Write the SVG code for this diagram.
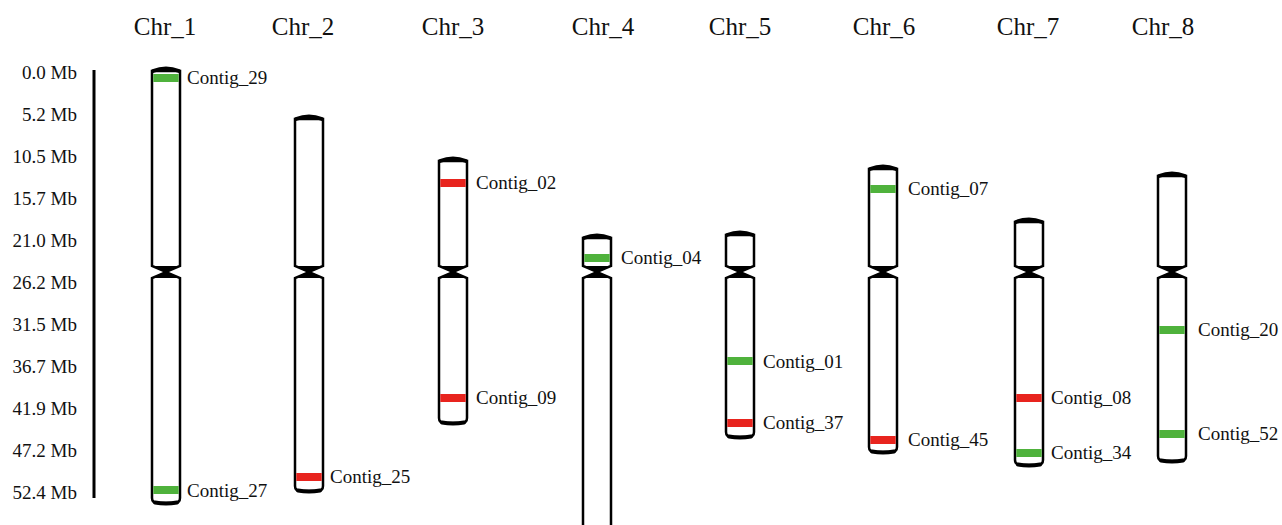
<svg xmlns="http://www.w3.org/2000/svg" width="1282" height="525" viewBox="0 0 1282 525">
<style>
text{font-family:"Liberation Serif","Times New Roman",Times,serif;fill:#111}
.hd{font-size:25px;text-anchor:middle}
.ax{font-size:19px;text-anchor:end}
.lb{font-size:19px}
.arm{fill:#fff;stroke:#000;stroke-width:2.5}
.cap{fill:none;stroke:#000;stroke-width:4;stroke-linecap:round}
.cen{fill:#000}
.g{fill:#4fb23c}
.r{fill:#e8241e}
</style>
<rect width="1282" height="525" fill="#fff"/>
<g id="headers">
<text class="hd" x="165" y="35">Chr_1</text>
<text class="hd" x="303" y="35">Chr_2</text>
<text class="hd" x="453" y="35">Chr_3</text>
<text class="hd" x="603" y="35">Chr_4</text>
<text class="hd" x="740" y="35">Chr_5</text>
<text class="hd" x="884" y="35">Chr_6</text>
<text class="hd" x="1028" y="35">Chr_7</text>
<text class="hd" x="1163" y="35">Chr_8</text>
</g>
<g id="axis">
<line x1="94" y1="70" x2="94" y2="498" stroke="#000" stroke-width="3"/>
<text class="ax" x="77" y="79">0.0 Mb</text>
<text class="ax" x="77" y="121">5.2 Mb</text>
<text class="ax" x="77" y="163">10.5 Mb</text>
<text class="ax" x="77" y="205">15.7 Mb</text>
<text class="ax" x="77" y="247">21.0 Mb</text>
<text class="ax" x="77" y="289">26.2 Mb</text>
<text class="ax" x="77" y="331">31.5 Mb</text>
<text class="ax" x="77" y="373">36.7 Mb</text>
<text class="ax" x="77" y="415">41.9 Mb</text>
<text class="ax" x="77" y="457">47.2 Mb</text>
<text class="ax" x="77" y="499">52.4 Mb</text>
</g>
<g id="chr1">
<path class="arm" d="M152,266 V71 H180 V266 L166,272 Z"/>
<path class="arm" d="M152,278 V498 Q152,503 158,503 H174 Q180,503 180,498 V278 L166,272 Z"/>
<path class="cap" d="M153,71 Q166,66 179,71"/>
<path class="cap" d="M155,502.5 Q166,504.5 177,502.5"/>
<path class="cen" d="M152,266 H180 L167.5,272 L180,278 H152 L164.5,272 Z"/>
<rect class="g" x="153.3" y="74" width="25.4" height="8"/>
<rect class="g" x="153.3" y="486" width="25.4" height="8"/>
<text class="lb" x="187" y="84">Contig_29</text>
<text class="lb" x="187" y="497">Contig_27</text>
</g>
<g id="chr2">
<path class="arm" d="M295,266 V119 H323 V266 L309,272 Z"/>
<path class="arm" d="M295,278 V486 Q295,491 301,491 H317 Q323,491 323,486 V278 L309,272 Z"/>
<path class="cap" d="M296,119 Q309,114 322,119"/>
<path class="cap" d="M298,490.5 Q309,492.5 320,490.5"/>
<path class="cen" d="M295,266 H323 L310.5,272 L323,278 H295 L307.5,272 Z"/>
<rect class="r" x="296.3" y="473" width="25.4" height="8"/>
<text class="lb" x="330" y="483">Contig_25</text>
</g>
<g id="chr3">
<path class="arm" d="M439,266 V161 H467 V266 L453,272 Z"/>
<path class="arm" d="M439,278 V418 Q439,423 445,423 H461 Q467,423 467,418 V278 L453,272 Z"/>
<path class="cap" d="M440,161 Q453,156 466,161"/>
<path class="cap" d="M442,422.5 Q453,424.5 464,422.5"/>
<path class="cen" d="M439,266 H467 L454.5,272 L467,278 H439 L451.5,272 Z"/>
<rect class="r" x="440.3" y="179" width="25.4" height="8"/>
<rect class="r" x="440.3" y="394" width="25.4" height="8"/>
<text class="lb" x="476" y="189">Contig_02</text>
<text class="lb" x="476" y="404">Contig_09</text>
</g>
<g id="chr4">
<path class="arm" d="M583,266 V238 H611 V266 L597,272 Z"/>
<path class="arm" d="M583,278 V535 H611 V278 L597,272 Z"/>
<path class="cap" d="M584,238 Q597,233 610,238"/>
<path class="cen" d="M583,266 H611 L598.5,272 L611,278 H583 L595.5,272 Z"/>
<rect class="g" x="584.3" y="254" width="25.4" height="8"/>
<text class="lb" x="621" y="264">Contig_04</text>
</g>
<g id="chr5">
<path class="arm" d="M726,266 V235 H754 V266 L740,272 Z"/>
<path class="arm" d="M726,278 V432 Q726,437 732,437 H748 Q754,437 754,432 V278 L740,272 Z"/>
<path class="cap" d="M727,235 Q740,230 753,235"/>
<path class="cap" d="M729,436.5 Q740,438.5 751,436.5"/>
<path class="cen" d="M726,266 H754 L741.5,272 L754,278 H726 L738.5,272 Z"/>
<rect class="g" x="727.3" y="357" width="25.4" height="8"/>
<rect class="r" x="727.3" y="419" width="25.4" height="8"/>
<text class="lb" x="763" y="368">Contig_01</text>
<text class="lb" x="763" y="429">Contig_37</text>
</g>
<g id="chr6">
<path class="arm" d="M869,266 V169 H897 V266 L883,272 Z"/>
<path class="arm" d="M869,278 V447 Q869,452 875,452 H891 Q897,452 897,447 V278 L883,272 Z"/>
<path class="cap" d="M870,169 Q883,164 896,169"/>
<path class="cap" d="M872,451.5 Q883,453.5 894,451.5"/>
<path class="cen" d="M869,266 H897 L884.5,272 L897,278 H869 L881.5,272 Z"/>
<rect class="g" x="870.3" y="185" width="25.4" height="8"/>
<rect class="r" x="870.3" y="436" width="25.4" height="8"/>
<text class="lb" x="908" y="195">Contig_07</text>
<text class="lb" x="908" y="446">Contig_45</text>
</g>
<g id="chr7">
<path class="arm" d="M1015,266 V222 H1043 V266 L1029,272 Z"/>
<path class="arm" d="M1015,278 V460 Q1015,465 1021,465 H1037 Q1043,465 1043,460 V278 L1029,272 Z"/>
<path class="cap" d="M1016,222 Q1029,217 1042,222"/>
<path class="cap" d="M1018,464.5 Q1029,466.5 1040,464.5"/>
<path class="cen" d="M1015,266 H1043 L1030.5,272 L1043,278 H1015 L1027.5,272 Z"/>
<rect class="r" x="1016.3" y="394" width="25.4" height="8"/>
<rect class="g" x="1016.3" y="449" width="25.4" height="8"/>
<text class="lb" x="1051" y="404">Contig_08</text>
<text class="lb" x="1051" y="459">Contig_34</text>
</g>
<g id="chr8">
<path class="arm" d="M1158,266 V176 H1186 V266 L1172,272 Z"/>
<path class="arm" d="M1158,278 V456 Q1158,461 1164,461 H1180 Q1186,461 1186,456 V278 L1172,272 Z"/>
<path class="cap" d="M1159,176 Q1172,171 1185,176"/>
<path class="cap" d="M1161,460.5 Q1172,462.5 1183,460.5"/>
<path class="cen" d="M1158,266 H1186 L1173.5,272 L1186,278 H1158 L1170.5,272 Z"/>
<rect class="g" x="1159.3" y="326" width="25.4" height="8"/>
<rect class="g" x="1159.3" y="430" width="25.4" height="8"/>
<text class="lb" x="1198" y="336">Contig_20</text>
<text class="lb" x="1198" y="440">Contig_52</text>
</g>
<g id="connectors"/>
</svg>
